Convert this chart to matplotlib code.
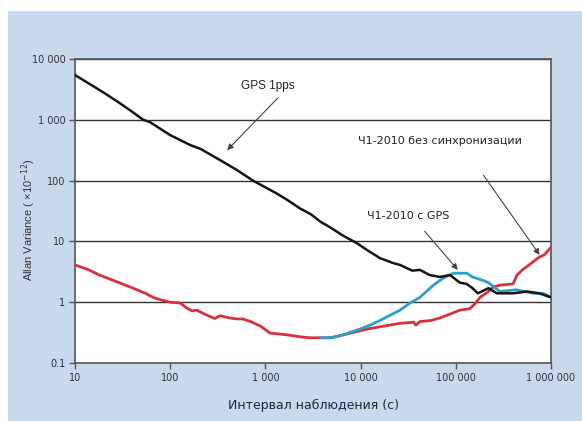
import numpy as np
import matplotlib.pyplot as plt
from matplotlib.patches import Rectangle
from matplotlib.ticker import FixedLocator, NullLocator

# GPS 1pps
x_gps = [10, 15, 20, 30, 40, 52, 61, 80, 100, 162, 210, 333, 500, 740, 1040, 1300,
         1700, 2300, 3000, 3800, 4800, 6500, 9200, 11700, 16000, 22000, 26000, 31000,
         35000, 42000, 53000, 68000, 87000, 110000, 130000, 150000, 170000, 220000,
         270000, 400000, 560000, 750000, 1000000]
y_gps = [5450, 3700, 2800, 1850, 1350, 1000, 920, 700, 560, 385, 330, 218, 150, 100, 75,
         62, 48, 35, 28, 21, 17, 12.5, 9.3, 7.2, 5.3, 4.4, 4.1, 3.6,
         3.3, 3.4, 2.8, 2.6, 2.8, 2.1, 2.0, 1.7, 1.4, 1.7,
         1.4, 1.4, 1.5, 1.4, 1.2]

# Ч1-2010 без синхронизации
x_free = [10, 14, 18, 25, 38, 55, 66, 82, 100, 127, 150, 170, 190, 262, 295, 333, 420,
          500, 580, 700, 900, 1120, 1400, 1700, 2300, 2900, 3800, 4800, 6000, 7800,
          10000, 12600, 17000, 22000, 26000, 32000, 36000, 38000, 42000, 55000, 68000,
          90000, 110000, 140000, 160000, 180000, 220000, 250000, 290000, 400000,
          440000, 500000, 600000, 750000, 850000, 1000000]
y_free = [4.1, 3.4, 2.8, 2.3, 1.78, 1.4, 1.2, 1.08, 1.0, 0.97, 0.8, 0.72, 0.74, 0.58,
          0.54, 0.6, 0.55, 0.53, 0.53, 0.48, 0.4, 0.31, 0.3, 0.29, 0.27, 0.26, 0.26,
          0.26, 0.28, 0.31, 0.34, 0.37, 0.4, 0.43, 0.45, 0.46, 0.47, 0.42, 0.48, 0.5,
          0.55, 0.65, 0.74, 0.78, 0.95, 1.2, 1.5, 1.8, 1.9, 2.0, 2.8, 3.4, 4.2, 5.5,
          6.0, 8.0]

# Ч1-2010 с GPS
x_sync = [3800, 4800, 5500, 7000, 9800, 12600, 16000, 20000, 26000, 33000, 42000,
          58000, 74000, 95000, 130000, 150000, 190000, 220000, 250000, 290000,
          430000, 650000, 830000, 1000000]
y_sync = [0.26, 0.26, 0.27, 0.30, 0.36, 0.42, 0.5, 0.6, 0.74, 0.97, 1.2,
          1.9, 2.5, 3.0, 3.0, 2.6, 2.3, 2.1, 1.8, 1.5,
          1.6, 1.4, 1.4, 1.2]

x_ticks = [10, 100, 1000, 10000, 100000, 1000000]
x_labels = ["10", "100", "1 000", "10 000", "100 000", "1 000 000"]
y_ticks = [0.1, 1, 10, 100, 1000, 10000]
y_labels = ["0.1", "1", "10", "100", "1 000", "10 000"]

fig = plt.figure(figsize=(5.82, 4.21), dpi=100)
fig.patch.set_facecolor("white")
fig.patches.append(Rectangle((8 / 582, 0), 1, 1 - 11 / 421, transform=fig.transFigure,
                             facecolor="#c8d8ed", edgecolor="none", zorder=-10))

ax = fig.add_axes([75 / 582, 58 / 421, 476 / 582, 304 / 421])
ax.set_facecolor("white")
ax.set_xscale("log")
ax.set_yscale("log")
ax.set_xlim(10, 1e6)
ax.set_ylim(0.1, 1e4)

for yv in y_ticks[1:]:
    ax.axhline(yv, color="#333333", lw=1.0, zorder=1)

ax.plot(x_free, y_free, color="#d8303c", lw=2.0, zorder=3)
ax.plot(x_sync, y_sync, color="#2b9fc9", lw=2.0, zorder=4)
ax.plot(x_gps, y_gps, color="#151515", lw=1.8, zorder=5)

ax.xaxis.set_major_locator(FixedLocator(x_ticks))
ax.xaxis.set_minor_locator(NullLocator())
ax.set_xticklabels(x_labels)
ax.yaxis.set_major_locator(FixedLocator(y_ticks))
ax.yaxis.set_minor_locator(NullLocator())
ax.set_yticklabels(y_labels)
ax.tick_params(axis="both", direction="out", length=4, width=1, color="#555555",
               labelsize=7, labelcolor="#333333", pad=3)
for s in ax.spines.values():
    s.set_color("#555555")
    s.set_linewidth(1.2)

ax.set_xlabel("Интервал наблюдения (с)", fontsize=9, color="#1e2640", labelpad=12)
fig.text(29 / 582, 1 - 220 / 421, "Allan Variance ( ×10$^{-12}$)", fontsize=8,
         color="#333333", family="Liberation Sans", rotation=90, ha="center", va="center")

arrow = dict(arrowstyle="-|>", color="#444444", lw=0.8, mutation_scale=9, shrinkA=0, shrinkB=0)
ax.text(1050, 3600, "GPS 1pps", fontsize=8.5, color="#222222", family="Liberation Sans",
        ha="center", va="center", zorder=6)
ax.annotate("", xy=(396, 316), xytext=(1350, 2280), arrowprops=arrow, zorder=6)

ax.text(68000, 450, "Ч1-2010 без синхронизации", fontsize=8, color="#222222",
        ha="center", va="center", zorder=6)
ax.annotate("", xy=(760000, 6.0), xytext=(195000, 123), arrowprops=arrow, zorder=6)

ax.text(31600, 26, "Ч1-2010 с GPS", fontsize=8, color="#222222",
        ha="center", va="center", zorder=6)
ax.annotate("", xy=(105000, 3.4), xytext=(47000, 14.7), arrowprops=arrow, zorder=6)

fig.savefig("out.png", dpi=100)
